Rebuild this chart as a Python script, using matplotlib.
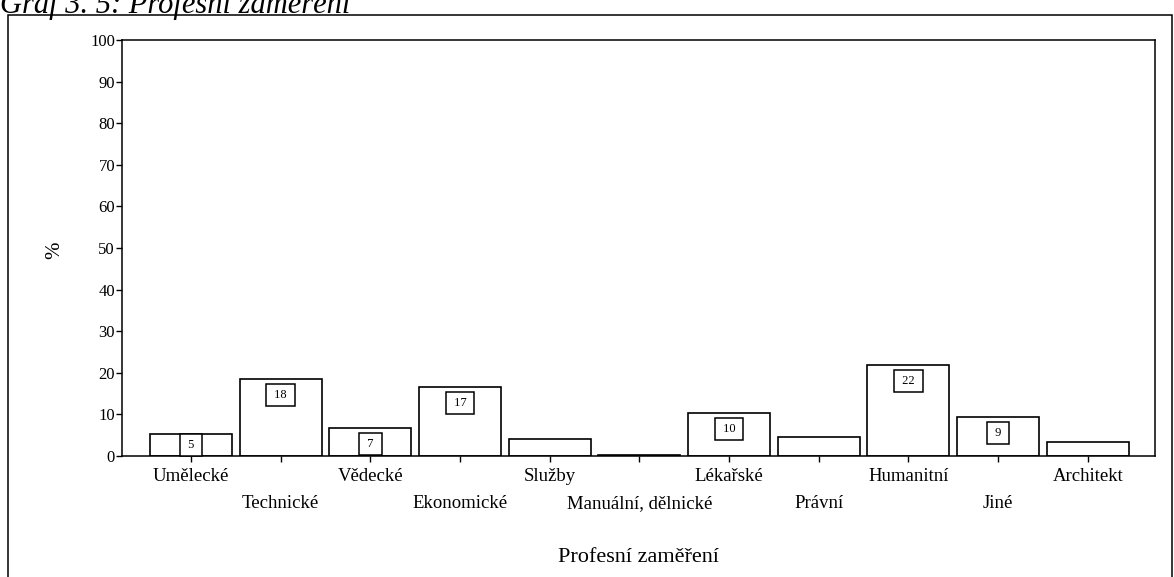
import matplotlib
matplotlib.use("Agg")
import matplotlib.pyplot as plt
from matplotlib.patches import Rectangle

plt.rcParams['font.family'] = ['Liberation Serif', 'DejaVu Serif']

categories = ["Umělecké", "Technické", "Vědecké", "Ekonomické", "Služby",
              "Manuální, dělnické", "Lékařské", "Právní", "Humanitní", "Jiné", "Architekt"]
values = [5.3, 18.5, 6.7, 16.6, 4.1, 0.3, 10.4, 4.6, 21.9, 9.4, 3.4]
labels = ["5", "18", "7", "17", "", "", "10", "", "22", "9", ""]
yticks = [0, 10, 20, 30, 40, 50, 60, 70, 80, 90, 100]

fig = plt.figure(figsize=(11.74, 5.77), dpi=100)
ax = fig.add_axes([122/1174, 1-456/577, (1155-122)/1174, (456-40)/577])

x = list(range(len(categories)))
ax.bar(x, values, width=0.915, facecolor='white', edgecolor='black', linewidth=1.2)

for xi, v, lab in zip(x, values, labels):
    if not lab:
        continue
    ypos = v / 2 if v < 6 else v - 3.8
    ax.text(xi, ypos, " " + lab + " ", ha='center', va='center', fontsize=9,
            bbox=dict(boxstyle='square,pad=0.4', facecolor='white', edgecolor='black', linewidth=1.1))

ax.set_xlim(-0.77, 10.75)
ax.set_ylim(0, 100)
ax.set_yticks(yticks)
ax.set_yticklabels([str(t) for t in yticks], fontsize=12)
ax.tick_params(axis='y', length=4, width=1, pad=1)
ax.set_xticks(x)
ax.set_xticklabels([])
ax.tick_params(axis='x', length=4, width=1)
for xi, c in zip(x, categories):
    yoff = -0.05 if xi % 2 == 0 else -0.115
    ax.text(xi, yoff, c, transform=ax.get_xaxis_transform(), ha='center', va='center', fontsize=13.5)

for s in ax.spines.values():
    s.set_linewidth(1.1)

fig.text(55/1174, 1-250/577, "%", rotation=90, ha='center', va='center', fontsize=15)
fig.text(638/1174, 1-557/577, "Profesní zaměření", ha='center', va='center', fontsize=16)
fig.text(0.0, 1-13/577, "Graf 3. 5: Profesní zaměření", style='italic', ha='left', va='baseline', fontsize=22)

fig.patches.append(Rectangle((8/1174, -0.01), (1172-8)/1174, 1.01-15/577, transform=fig.transFigure,
                             fill=False, edgecolor='black', linewidth=1.1))

fig.savefig("out.png", dpi=100)
